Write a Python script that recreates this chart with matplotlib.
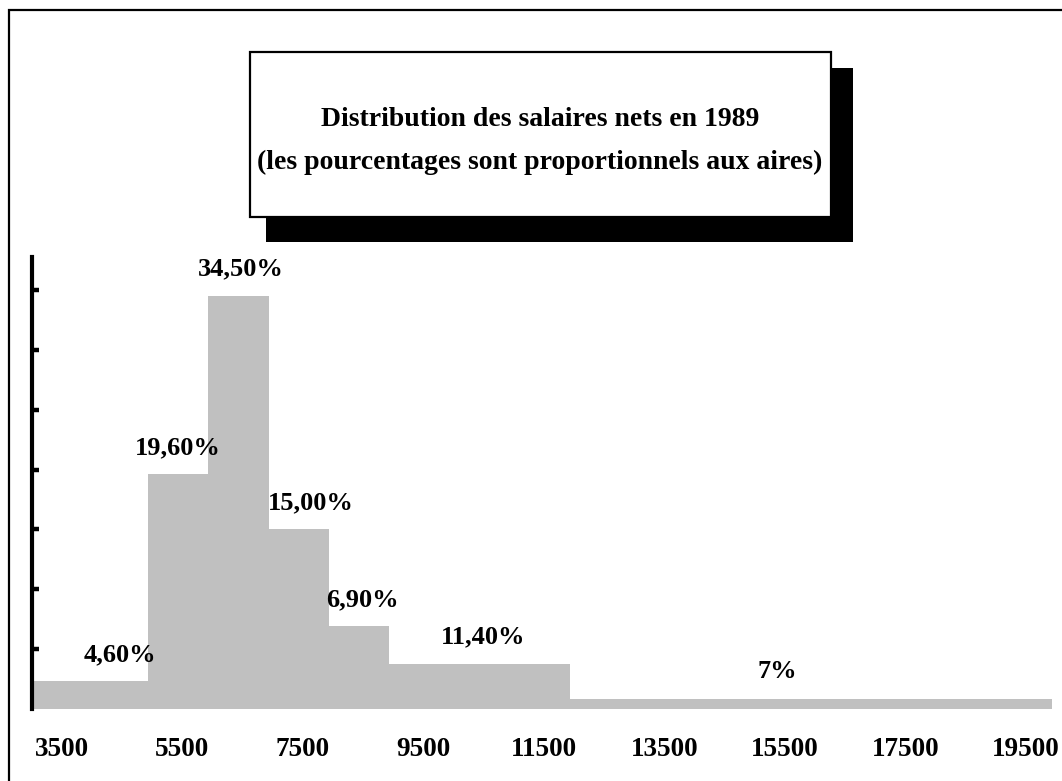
import matplotlib
matplotlib.use("Agg")
import matplotlib.pyplot as plt
import matplotlib.transforms as mtransforms
from matplotlib.patches import Rectangle

# Données : tranches de salaires nets (francs) et pourcentages
bin_left = [3000, 5000, 6000, 7000, 8000, 9000, 12000]
bin_right = [5000, 6000, 7000, 8000, 9000, 12000, 20000]
pourcentages = [4.6, 19.6, 34.5, 15.0, 6.9, 11.4, 7.0]
etiquettes = ['4,60%', '19,60%', '34,50%', '15,00%', '6,90%', '11,40%', '7%']
xticks = [3500, 5500, 7500, 9500, 11500, 13500, 15500, 17500, 19500]

# décalage horizontal des étiquettes (style)
decalage_x = [540, -10, 35, 195, 50, 65, -560]

W, H = 1062, 781
plt.rcParams['font.family'] = ['Liberation Serif', 'DejaVu Serif']
plt.rcParams['font.weight'] = 'bold'

fig = plt.figure(figsize=(W / 100, H / 100), dpi=100)


def fx(px):
    return px / W


def fy(py):
    return 1 - py / H


# cadre extérieur
fig.patches.append(Rectangle((fx(9), fy(H + 20)), fx(W + 20), (H + 10) / H,
                             transform=fig.transFigure, fill=False,
                             edgecolor='black', linewidth=1.6, zorder=0))

# histogramme : hauteur = pourcentage par tranche de 1000
largeurs = [r - l for l, r in zip(bin_left, bin_right)]
hauteurs = [p / (w / 1000) for p, w in zip(pourcentages, largeurs)]

ax = fig.add_axes([fx(32), fy(709), fx(1052 - 32), (709 - 257) / H])
ax.bar(bin_left, hauteurs, width=largeurs, align='edge', color='#c0c0c0',
       edgecolor='none')
ax.set_xlim(3075, 20000)
ax.set_ylim(0, 37.76)

for l, w, h, lab, dx in zip(bin_left, largeurs, hauteurs, etiquettes, decalage_x):
    ax.annotate(lab, (l + w / 2 + dx, h), xytext=(0, 11), textcoords='offset points',
                ha='center', va='bottom', fontsize=19, fontweight='bold')

for s in ['top', 'right', 'bottom']:
    ax.spines[s].set_visible(False)
ax.spines['left'].set_linewidth(3)
ax.set_yticks([5, 10, 15, 20, 25, 30, 35])
ax.set_yticklabels([])
ax.tick_params(axis='y', direction='in', length=5, width=3.2)
ax.set_xticks(xticks)
ax.set_xticklabels([str(t) for t in xticks], fontsize=19.5, fontweight='bold')
ax.tick_params(axis='x', length=0, pad=20)
decal = mtransforms.ScaledTranslation(4 / 100, 0, fig.dpi_scale_trans)
for t in ax.get_xticklabels():
    t.set_transform(t.get_transform() + decal)

# encadré du titre avec ombre
fig.patches.append(Rectangle((fx(266), fy(242)), fx(853 - 266), (242 - 68) / H,
                             transform=fig.transFigure, facecolor='black',
                             edgecolor='none', zorder=1))
fig.patches.append(Rectangle((fx(250), fy(217)), fx(831 - 250), (217 - 52) / H,
                             transform=fig.transFigure, facecolor='white',
                             edgecolor='black', linewidth=1.6, zorder=2))
fig.text(fx(540), fy(141), "Distribution des salaires nets en 1989\n"
         "(les pourcentages sont proportionnels aux aires)",
         ha='center', va='center', fontsize=20, fontweight='bold',
         linespacing=1.9, zorder=3)

fig.savefig('out.png', dpi=100)
